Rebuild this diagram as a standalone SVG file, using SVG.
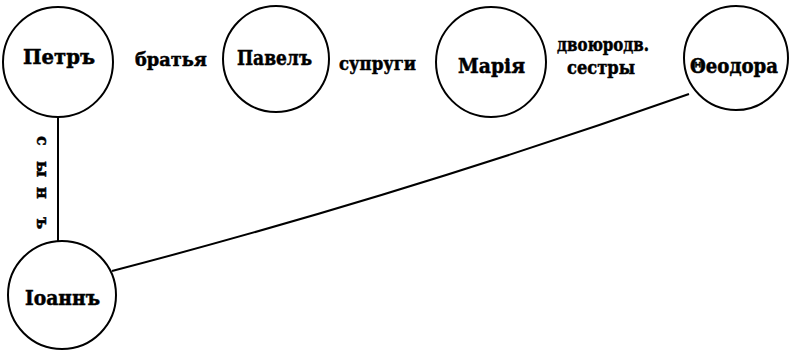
<svg xmlns="http://www.w3.org/2000/svg" width="789" height="353" viewBox="0 0 789 353">
<style>
.node{fill:none;stroke:#000;stroke-width:2}
.edge{fill:none;stroke:#000;stroke-width:2}
text{font-family:"DejaVu Serif","Liberation Serif",serif;font-weight:bold;fill:#000;stroke:#000;stroke-width:0.5}
.n{font-size:20px}
.l{font-size:18px}
</style>
<rect width="789" height="353" fill="#fff"/>
<g id="connectors">
<line class="edge" x1="58" y1="117" x2="58" y2="241"/>
<path class="edge" d="M112,271 Q400,196 689,94"/>
<text class="l" transform="translate(37,0) rotate(90)" x="136 161 187 217" y="0" style="font-size:16px">сынъ</text>
<text class="l" x="135" y="66" textLength="72" lengthAdjust="spacingAndGlyphs">братья</text>
<text class="l" x="339" y="70" textLength="77" lengthAdjust="spacingAndGlyphs">супруги</text>
<text class="l" x="557" y="51" textLength="92" lengthAdjust="spacingAndGlyphs">двоюродв.</text>
<text class="l" x="567" y="74" textLength="68" lengthAdjust="spacingAndGlyphs">сестры</text>
</g>
<g id="petr"><circle class="node" cx="58" cy="62" r="55"/><text class="n" x="23" y="64" textLength="72" lengthAdjust="spacingAndGlyphs">Петръ</text></g>
<g id="pavel"><circle class="node" cx="276" cy="59" r="53"/><text class="n" x="237" y="65" textLength="75" lengthAdjust="spacingAndGlyphs">Павелъ</text></g>
<g id="maria"><circle class="node" cx="491" cy="62" r="55"/><text class="n" x="458" y="73" textLength="67" lengthAdjust="spacingAndGlyphs">Марія</text></g>
<g id="feodora"><circle class="node" cx="736" cy="58" r="52"/><text class="n" x="690" y="73" textLength="88" lengthAdjust="spacingAndGlyphs">Θеодора</text></g>
<g id="ioann"><circle class="node" cx="62" cy="295" r="54"/><text class="n" x="25" y="305" textLength="75" lengthAdjust="spacingAndGlyphs">Іоаннъ</text></g>
</svg>
